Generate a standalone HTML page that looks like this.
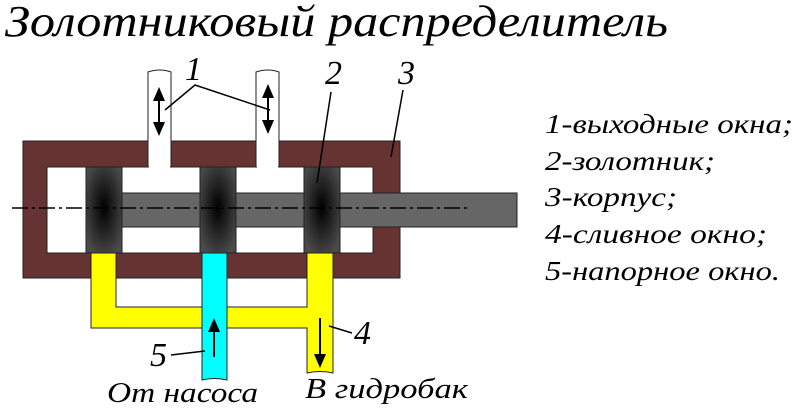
<!DOCTYPE html>
<html><head><meta charset="utf-8"><style>body{margin:0;background:#fff}svg{display:block}text{font-family:"Liberation Serif","DejaVu Serif",serif;font-style:italic}</style></head><body>
<svg width="800" height="411" viewBox="0 0 800 411" xmlns="http://www.w3.org/2000/svg">
<defs>
<radialGradient id="pg" cx="50%" cy="47%" r="60%"><stop offset="0" stop-color="#000"/><stop offset="1" stop-color="#4a4a4a"/></radialGradient>
<marker id="ah" markerWidth="14" markerHeight="12" refX="12" refY="6" orient="auto-start-reverse" markerUnits="userSpaceOnUse"><path d="M0,0 L14,6 L0,12z" fill="#000"/></marker>
</defs>
<g fill="#000">
<text x="5" y="36" font-size="44" textLength="663" lengthAdjust="spacingAndGlyphs">Золотниковый распределитель</text>
<g font-size="27">
<text x="545" y="133" textLength="248" lengthAdjust="spacingAndGlyphs">1-выходные окна;</text>
<text x="545" y="170" textLength="170" lengthAdjust="spacingAndGlyphs">2-золотник;</text>
<text x="545" y="206" textLength="132" lengthAdjust="spacingAndGlyphs">3-корпус;</text>
<text x="545" y="243" textLength="222" lengthAdjust="spacingAndGlyphs">4-сливное окно;</text>
<text x="545" y="280" textLength="235" lengthAdjust="spacingAndGlyphs">5-напорное окно.</text>
</g>
<g font-size="28">
<text x="107" y="402" textLength="151" lengthAdjust="spacingAndGlyphs">От насоса</text>
<text x="305" y="398" textLength="163" lengthAdjust="spacingAndGlyphs">В гидробак</text>
<text x="185" y="80" font-size="34">1</text>
<text x="325" y="84" font-size="34">2</text>
<text x="398" y="84" font-size="34">3</text>
<text x="354" y="344" font-size="34">4</text>
<text x="150" y="366" font-size="34">5</text>
</g>
</g>
<rect x="23" y="141" width="377" height="137" fill="#663333" stroke="#222" stroke-width="1"/>
<rect x="47" y="167" width="326" height="86" fill="#fff" stroke="#222" stroke-width="1"/>
<path d="M148,167 V72 Q160,68 171,72 V167z" fill="#fff" stroke="#222"/>
<path d="M256,167 V72 Q268,68 279,72 V167z" fill="#fff" stroke="#222"/>
<rect x="149" y="140" width="21" height="28" fill="#fff"/>
<rect x="257" y="140" width="21" height="28" fill="#fff"/>
<rect x="122" y="193" width="395" height="34" fill="#666" stroke="#222"/>
<rect x="86" y="167" width="36" height="86" fill="url(#pg)" stroke="#222"/>
<rect x="200" y="167" width="36" height="86" fill="url(#pg)" stroke="#222"/>
<rect x="304" y="167" width="36" height="86" fill="url(#pg)" stroke="#222"/>
<path d="M91,253 H116 V307 H307 V253 H333 V373 Q320,370 307,373 V328 H91z" fill="#ffff00" stroke="#222"/>
<path d="M202,253 H227 V380 Q214,377 202,380z" fill="#00ffff" stroke="#222"/>
<line x1="12" y1="208" x2="467" y2="208" stroke="#000" stroke-width="1.5" stroke-dasharray="16,4,3,4"/>
<g stroke="#000" stroke-width="2">
<line x1="159" y1="89" x2="159" y2="134" marker-start="url(#ah)" marker-end="url(#ah)"/>
<line x1="268" y1="86" x2="268" y2="132" marker-start="url(#ah)" marker-end="url(#ah)"/>
<line x1="214" y1="357" x2="214" y2="320" marker-end="url(#ah)"/>
<line x1="320" y1="318" x2="320" y2="366" marker-end="url(#ah)"/>
</g>
<g stroke="#000" stroke-width="1.5" fill="none">
<path d="M165,110 L195,85 L270,110"/>
<line x1="331" y1="92" x2="317" y2="183"/>
<line x1="403" y1="90" x2="391" y2="157"/>
<line x1="352" y1="333" x2="329" y2="326"/>
<line x1="171" y1="355" x2="205" y2="351"/>
</g>
</svg>
</body></html>
